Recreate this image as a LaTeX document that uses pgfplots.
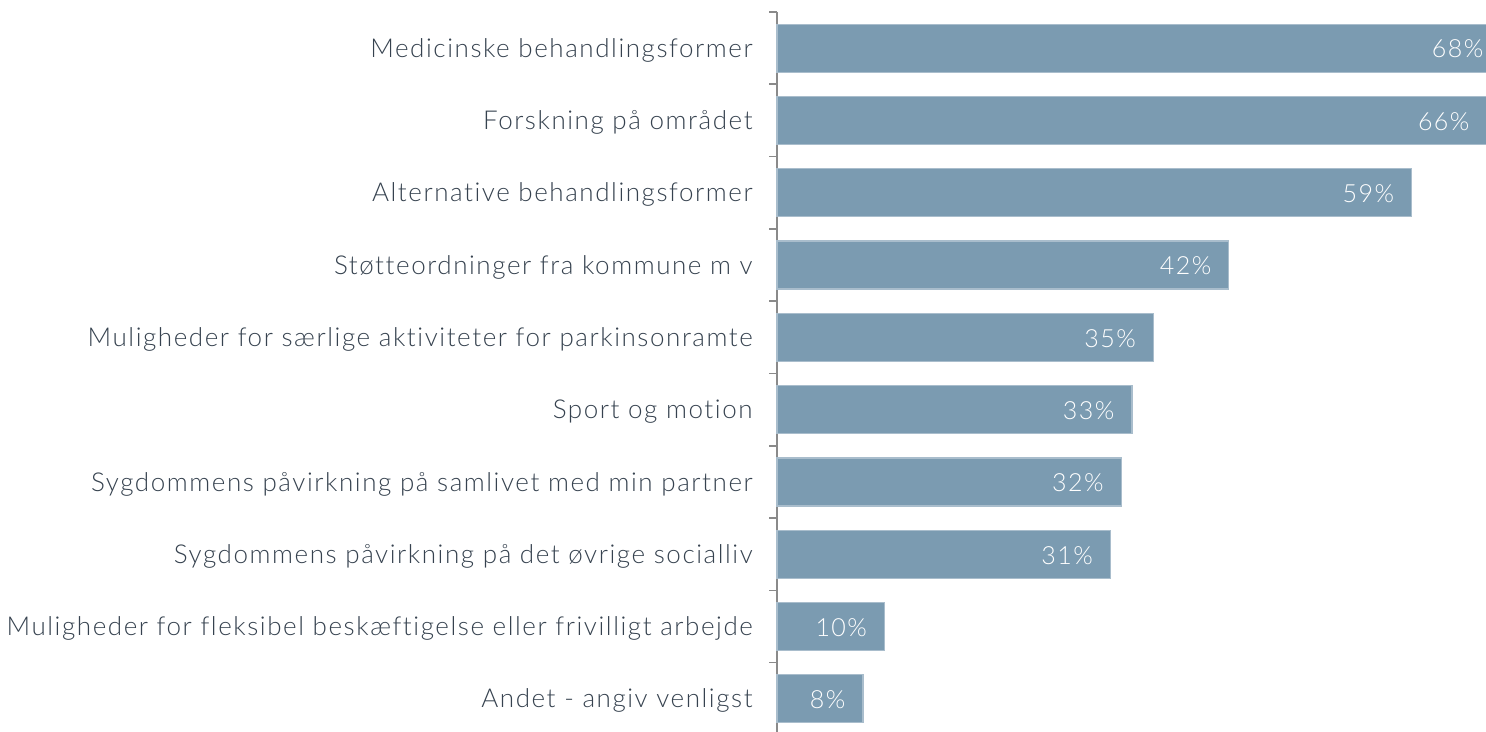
\documentclass[border=0pt]{standalone}
\usepackage{pgfplots}
\pgfplotsset{compat=1.18}
\usepackage{fontspec}
\IfFontExistsTF{Lato Light}{\setmainfont{Lato Light}[LetterSpace=6,Ligatures={NoCommon}]}{\setmainfont{Lato}[LetterSpace=6,Ligatures={NoCommon}]}
\definecolor{barc}{HTML}{7B9BB1}
\definecolor{barb}{HTML}{A9BDCC}
\definecolor{txt}{HTML}{36424F}
\definecolor{axc}{HTML}{8A8A8A}
\begin{document}
\begin{tikzpicture}
\useasboundingbox (0,0) rectangle (743pt,366pt);
\begin{axis}[
  at={(388.5pt,360pt)}, anchor=north west,
  width=354.5pt, height=361.5pt, scale only axis,
  xbar, bar width=24pt,
  xmin=0, xmax=65.9,
  ymin=-0.5, ymax=9.5, y dir=reverse,
  clip=false,
  hide x axis,
  axis y line*=left,
  axis line style={axc, line width=1pt},
  y axis line style={-},
  ytick={0,...,9},
  yticklabels={Medicinske behandlingsformer,Forskning på området,Alternative behandlingsformer,Støtteordninger fra kommune m v\ ,Muligheder for særlige aktiviteter for parkinsonramte,Sport og motion,Sygdommens påvirkning på samlivet med min partner,Sygdommens påvirkning på det øvrige socialliv,Muligheder for fleksibel beskæftigelse eller frivilligt arbejde,Andet - angiv venligst},
  major tick length=0pt,
  extra y ticks={-0.5,0.5,...,9.5},
  extra y tick labels={},
  extra y tick style={major tick length=4pt, tick align=outside, tick style={axc, line width=0.8pt}},
  yticklabel style={font=\fontsize{13}{15}\selectfont, text=txt, anchor=east, inner sep=0pt, xshift=-12pt, yshift=-1pt},
  point meta=x,
  /pgf/number format/assume math mode=true,
  visualization depends on={x \as \rawx},
  nodes near coords={\pgfmathprintnumber{\pgfplotspointmeta}\%},
  every node near coord/.append style={font=\fontsize{12.5}{14}\selectfont, text=white, anchor=east, inner sep=0pt, yshift=-0.5pt, xshift={-8.5pt-max(0,\rawx-67.3)*5.38pt}},
]
\addplot[fill=barc, draw=barb, line width=0.6pt] coordinates {
 (68,0) (66,1) (59,2) (42,3) (35,4) (33,5) (32,6) (31,7) (10,8) (8,9)
};
\end{axis}
\end{tikzpicture}
\end{document}
